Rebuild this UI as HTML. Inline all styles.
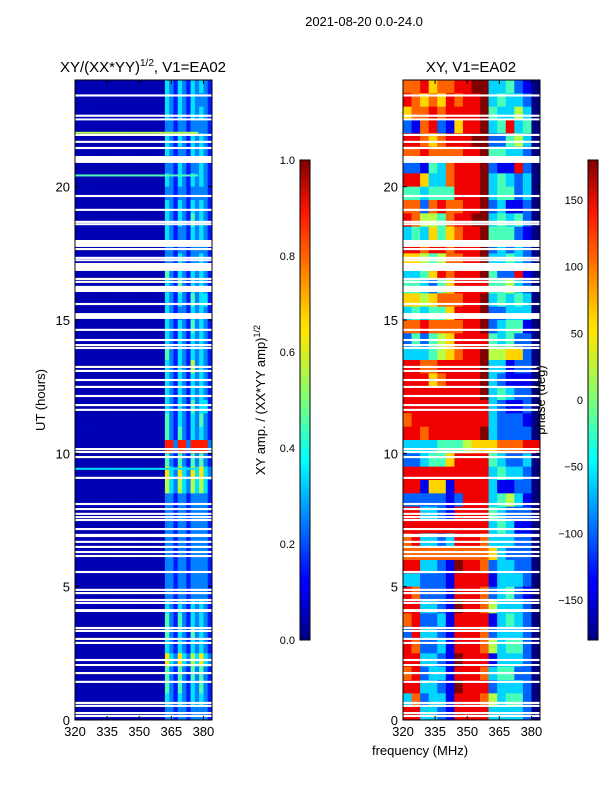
<!DOCTYPE html>
<html><head><meta charset="utf-8">
<style>
body{margin:0;background:#fff;}
svg text{font-family:"Liberation Sans",sans-serif;fill:#000;}
</style></head>
<body>
<svg id="fig" width="600" height="800" xmlns="http://www.w3.org/2000/svg">
<defs>
<linearGradient id="jet" x1="0" y1="1" x2="0" y2="0">
<stop offset="0" stop-color="#00007f"/><stop offset="0.11" stop-color="#0000ff"/><stop offset="0.125" stop-color="#0000ff"/>
<stop offset="0.34" stop-color="#00dcff"/><stop offset="0.375" stop-color="#00ffff"/><stop offset="0.5" stop-color="#7dff7a"/>
<stop offset="0.64" stop-color="#ffe600"/><stop offset="0.66" stop-color="#ffe000"/><stop offset="0.89" stop-color="#ff1500"/><stop offset="1" stop-color="#800000"/>
</linearGradient>
</defs>
<text x="364" y="26" font-size="13" text-anchor="middle">2021-08-20 0.0-24.0</text>
<text x="143" y="72" font-size="15" text-anchor="middle">XY/(XX*YY)<tspan font-size="10" dy="-6">1/2</tspan><tspan dy="6">, V1=EA02</tspan></text>
<text x="471" y="72" font-size="15" text-anchor="middle">XY, V1=EA02</text>
<g id="left"></g>
<g id="right"></g>
<g id="axes"></g>
<rect x="300" y="160" width="10" height="480" fill="url(#jet)" stroke="#000" stroke-width="1"/>
<rect x="588" y="160" width="10" height="480" fill="url(#jet)" stroke="#000" stroke-width="1"/>
<text transform="translate(45,400) rotate(-90)" font-size="13" text-anchor="middle">UT (hours)</text>
<text transform="translate(265,400) rotate(-90)" font-size="13" text-anchor="middle">XY amp. / (XX*YY amp)<tspan font-size="9" dy="-5">1/2</tspan></text>
<text transform="translate(545,400) rotate(-90)" font-size="13" text-anchor="middle">phase (deg)</text>
<text x="420" y="755" font-size="13" text-anchor="middle">frequency (MHz)</text>
</svg>
<script>
// frequency axis 320..384 MHz, time axis 0..24 h
const xTicks = [320,335,350,365,380];
const yTicks = [0,5,10,15,20];
const ampTicks = ["0.0","0.2","0.4","0.6","0.8","1.0"];
const phaseTicks = [-150,-100,-50,0,50,100,150];
// amplitude rows (0.5 h each, top = 24 h), 32 cols of 2 MHz, amplitude = (digit+0.5)/10
const ampRows = [
"000000000000000000000"+"32132132321","000000000000000000000"+"32132132221",
"000000000000000000000"+"32132132321","000000000000000000000"+"22122122221",
"000000000000000000000"+"32132132321","000000000000000000000"+"32122132321",
"000000000000000000000"+"22132122321","000000000000000000000"+"32132132321",
"000000000000000000000"+"22122122221","000000000000000000000"+"32132132321",
"000000000000000000000"+"32132142321","000000000000000000000"+"32122132321",
"000000000000000000000"+"22122122221","000000000000000000000"+"22132122321",
"000000000000000000000"+"42132132321","000000000000000000000"+"32142132321",
"000000000000000000000"+"32132142331","000000000000000000000"+"32122132321",
"000000000000000000000"+"32132142321","000000000000000000000"+"32132132321",
"000000000000000000000"+"42132132321","000000000000000000000"+"32132152321",
"000000000000000000000"+"32132132321","000000000000000000000"+"32132132321",
"000000000000000000000"+"32132142331","000000000000000000000"+"42132132421",
"000000000000000000000"+"42142132321","000000000000000000000"+"88288288882",
"000000000000000000000"+"42142142421","000000000000000000000"+"63263263632",
"000000000000000000000"+"53253253531","000000000000000000000"+"22122122221",
"000000000000000000000"+"22122122221","000000000000000000000"+"22122122221",
"000000000000000000000"+"22122122221","000000000000000000000"+"22122122221",
"000000000000000000000"+"22122122221","000000000000000000000"+"22122122221",
"000000000000000000000"+"22122122221","000000000000000000000"+"32132132321",
"000000000000000000000"+"42142132321","000000000000000000000"+"42132142321",
"000000000000000000000"+"32132132321","000000000000000000000"+"63263253632",
"000000000000000000000"+"42142142421","000000000000000000000"+"42142132421",
"000000000000000000000"+"32132132321","000000000000000000000"+"22122122221"
];
// phase rows (0.5 h each, top = 24 h), 16 cols of 4 MHz, digit -> -180..180
const phaseRows = [
"7786778899334210","8767687889343320","6778788889433530","2178216889348340",
"8876788899224530","7787777889443320","2214378889211820","8863378889343230",
"4434448889344230","7727877889231120","8755478899343420","3436467889444210",
"8878878889232320","6654577889334320","3346878889422810","4432468888445320",
"6656777889343430","3434468889223330","7787777889234410","2424568888434220",
"3334567889556620","8877888889331220","8886788889321110","8888888889343220",
"8888888888321120","7888888888322210","8878888889322220","3333444566677788",
"2234468888432230","8888888888343320","8816618888311220","2222212888345310",
"8833218888432220","8888888888343110","7833238887333220","7777777777632220",
"8833219887233220","3322218888133320","8722218887234210","8833219887533320",
"7822318888134320","2833218887233320","8722318887534420","8833219888133320",
"7823318887344220","8833219888233320","3723318887534420","8833218888333320"
];
// flagged (blank) time ranges in hours [start, end]
const gaps = [[23.38,23.46],[22.50,22.56],[22.62,22.70],[21.90,21.98],[21.64,21.72],[21.41,21.49],[20.89,21.15],
[19.61,19.69],[19.09,19.17],[18.64,18.72],[18.56,18.63],[17.74,18.0],[17.62,17.70],[17.29,17.37],[17.21,17.28],
[16.84,17.14],[16.50,16.58],[16.39,16.47],[16.05,16.28],[15.56,15.64],[15.04,15.26],[14.59,14.67],[14.21,14.29],
[14.02,14.10],[13.91,13.99],[13.20,13.28],[13.05,13.13],[12.71,12.79],[12.45,12.53],[12.11,12.19],
[11.77,11.85],[11.59,11.67],[10.12,10.20],[10.01,10.09],[9.82,9.90],[9.04,9.12],[8.06,8.14],[7.87,7.95],
[7.69,7.77],[7.57,7.65],[7.46,7.54],[7.12,7.20],[6.86,6.98],[6.64,6.72],[6.45,6.53],[6.26,6.34],[6.11,6.19],
[5.51,5.59],[4.84,4.92],[4.72,4.80],[4.46,4.54],[4.35,4.43],[4.05,4.16],[3.41,3.49],[3.30,3.38],[3.00,3.08],
[2.85,2.93],[2.21,2.29],[2.03,2.10],[1.72,1.80],[1.39,1.47],[0.60,0.68],[0.49,0.57],[0.22,0.30],[0.11,0.19]];
// thin horizontal streaks in amplitude panel [hour, amplitude digit]
const streaks = [[22.02,5],[20.42,4],[9.42,3]];

const NS="http://www.w3.org/2000/svg";
const TOP=80,BOT=720,FMIN=320,FMAX=384,TMAX=24;
const LX=75,RX=403,PW=137;
function yOf(t){return BOT-(t/TMAX)*(BOT-TOP);}
function xOf(f,x0){return x0+(f-FMIN)/(FMAX-FMIN)*PW;}
function jet(v){v=Math.max(0,Math.min(1,v));
 const r=Math.min(4*v-1.5,-4*v+4.5),g=Math.min(4*v-0.5,-4*v+3.5),b=Math.min(4*v+0.5,-4*v+2.5);
 const c=x=>Math.round(255*Math.max(0,Math.min(1,x)));return `rgb(${c(r)},${c(g)},${c(b)})`;}
function mk(tag,a,parent){const e=document.createElementNS(NS,tag);for(const k in a)e.setAttribute(k,a[k]);parent.appendChild(e);return e;}

const L=document.getElementById('left'),R=document.getElementById('right'),A=document.getElementById('axes');
ampRows.forEach((row,i)=>{
 const t1=TMAX-i*0.5,t0=t1-0.5;const nc=row.length,df=(FMAX-FMIN)/nc;
 for(let j=0;j<nc;j++){
  const r=mk('rect',{x:xOf(FMIN+j*df,LX),y:yOf(t1),width:PW/nc+0.3,height:yOf(t0)-yOf(t1)+0.3,fill:jet((+row[j]+0.5)/10)},L);
  
  
 }});
streaks.forEach(s=>{
 const r=mk('rect',{x:LX,y:yOf(s[0])-1,width:PW*0.9,height:2,fill:jet((s[1]+0.5)/10)},L);
 
 
});
phaseRows.forEach((row,i)=>{
 const t1=TMAX-i*0.5,t0=t1-0.5;const nc=row.length,df=(FMAX-FMIN)/nc;
 for(let j=0;j<nc;j++){
  const r=mk('rect',{x:xOf(FMIN+j*df,RX),y:yOf(t1),width:PW/nc+0.3,height:yOf(t0)-yOf(t1)+0.3,fill:jet(+row[j]/9)},R);
  
  
 }});
[LX,RX].forEach(x0=>{
 gaps.forEach(g=>{
  const r=mk('rect',{x:x0,y:yOf(g[1]),width:PW,height:Math.max(2,yOf(g[0])-yOf(g[1])),fill:'#fff'},A);
  
  
 });
 const f=mk('rect',{x:x0,y:TOP,width:PW,height:BOT-TOP,fill:'none',stroke:'#000','stroke-width':1},A);
 
 
 xTicks.forEach(v=>{const x=xOf(v,x0);
  mk('line',{x1:x,x2:x,y1:BOT,y2:BOT-4,stroke:'#000'},A);mk('line',{x1:x,x2:x,y1:TOP,y2:TOP+4,stroke:'#000'},A);
  const t=mk('text',{x:x,y:BOT+16,'font-size':13,'text-anchor':'middle'},A);t.textContent=v;
  
  });
 yTicks.forEach(v=>{const y=yOf(v);
  mk('line',{x1:x0,x2:x0+4,y1:y,y2:y,stroke:'#000'},A);mk('line',{x1:x0+PW,x2:x0+PW-4,y1:y,y2:y,stroke:'#000'},A);
  const t=mk('text',{x:x0-5,y:y+5,'font-size':13,'text-anchor':'end'},A);t.textContent=v;
  
  });
});
ampTicks.forEach((v,i)=>{const y=640-i*96;
 mk('line',{x1:300,x2:310,y1:y,y2:y,stroke:'#000'},A);
 const t=mk('text',{x:295,y:y+4,'font-size':11,'text-anchor':'end'},A);t.textContent=v;
 
 });
phaseTicks.forEach(v=>{const y=400-v/360*480;
 mk('line',{x1:588,x2:598,y1:y,y2:y,stroke:'#000'},A);
 const t=mk('text',{x:583,y:y+4,'font-size':11,'text-anchor':'end'},A);t.textContent=v<0?'\u2212'+(-v):v;
 
 });
</script>
</body></html>
